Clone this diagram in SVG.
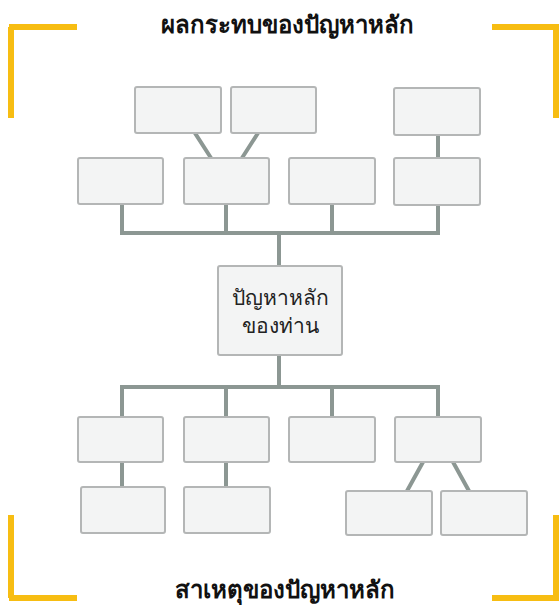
<svg xmlns="http://www.w3.org/2000/svg" width="559" height="611" viewBox="0 0 559 611">
<style>
.box{fill:#f3f4f4;stroke:#b4b6b6;stroke-width:2}
.con{stroke:#8c9793;stroke-width:4;fill:none;stroke-linecap:square}
.corner{stroke:#f7bd12;stroke-width:6;fill:none}
.title{font-family:"Noto Sans","Liberation Sans",sans-serif;font-weight:bold;font-size:24px;fill:#111;text-anchor:middle}
.lbl{font-family:"Noto Sans","Liberation Sans",sans-serif;font-size:21px;fill:#222;text-anchor:middle}
</style>
<rect width="559" height="611" fill="#ffffff"/>
<g id="corners">
<path class="corner" d="M9 27 H77 M11 27 V118"/>
<path class="corner" d="M492 27 H559 M556 27 V118"/>
<path class="corner" d="M11 515 V598 M9 598 H77"/>
<path class="corner" d="M556 515 V598 M492 598 H559"/>
</g>
<text id="title-top" class="title" x="287" y="33">ผลกระทบของปัญหาหลัก</text>
<text id="title-bottom" class="title" x="285" y="598">สาเหตุของปัญหาหลัก</text>
<g id="connectors">
<path class="con" d="M195 133 L211 158 M258 133 L242 158 M438 135 V158"/>
<path class="con" d="M122 205 V233 M226 205 V233 M332 205 V233 M438 205 V233 M122 233 H438 M279 233 V266"/>
<path class="con" d="M279 355 V387 M122 387 H438 M122 387 V417 M226 387 V417 M332 387 V417 M438 387 V417"/>
<path class="con" d="M122 462 V487 M226 462 V487 M423 462 L407 491 M453 462 L469 491"/>
</g>
<g id="t1"><rect class="box" x="135" y="87" width="86" height="46" rx="2"/></g>
<g id="t2"><rect class="box" x="231" y="87" width="85" height="46" rx="2"/></g>
<g id="t3"><rect class="box" x="394" y="88" width="86" height="47" rx="2"/></g>
<g id="e1"><rect class="box" x="78" y="158" width="85" height="46" rx="2"/></g>
<g id="e2"><rect class="box" x="184" y="158" width="85" height="46" rx="2"/></g>
<g id="e3"><rect class="box" x="289" y="158" width="86" height="46" rx="2"/></g>
<g id="e4"><rect class="box" x="394" y="158" width="86" height="47" rx="2"/></g>
<g id="main">
<rect class="box" x="218" y="266" width="124" height="89" rx="2"/>
<text class="lbl" x="280" y="305">ปัญหาหลัก</text>
<text class="lbl" x="280" y="333">ของท่าน</text>
</g>
<g id="c1"><rect class="box" x="78" y="417" width="85" height="45" rx="2"/></g>
<g id="c2"><rect class="box" x="184" y="417" width="85" height="45" rx="2"/></g>
<g id="c3"><rect class="box" x="289" y="417" width="86" height="45" rx="2"/></g>
<g id="c4"><rect class="box" x="395" y="417" width="86" height="45" rx="2"/></g>
<g id="d1"><rect class="box" x="81" y="487" width="84" height="46" rx="2"/></g>
<g id="d2"><rect class="box" x="184" y="487" width="86" height="46" rx="2"/></g>
<g id="d3"><rect class="box" x="346" y="491" width="86" height="44" rx="2"/></g>
<g id="d4"><rect class="box" x="441" y="491" width="86" height="44" rx="2"/></g>
</svg>
